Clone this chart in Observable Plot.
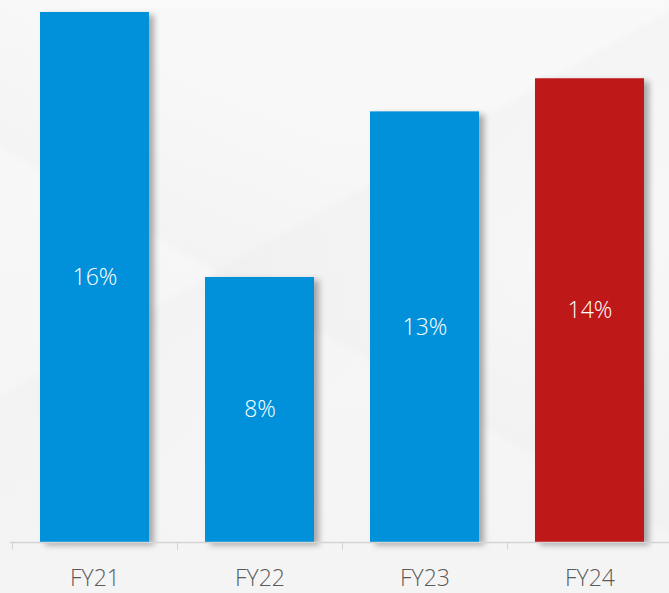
<!DOCTYPE html>
<html>
<head>
<meta charset="utf-8">
<script src="https://cdn.jsdelivr.net/npm/d3@7"></script>
<script src="https://cdn.jsdelivr.net/npm/@observablehq/plot@0.6"></script>
<style>
  html, body { margin: 0; padding: 0; }
  body {
    width: 669px; height: 593px; overflow: hidden;
    background:
      linear-gradient(150deg, rgba(255,255,255,0) 40%, rgba(232,232,232,0.25) 41%, rgba(255,255,255,0) 60%),
      linear-gradient(30deg, rgba(255,255,255,0) 45%, rgba(228,228,228,0.2) 46%, rgba(255,255,255,0) 65%),
      linear-gradient(180deg, #f9f9f9 0%, #f4f4f4 100%);
  }
  #chart svg { display: block; background: transparent; }
</style>
</head>
<body>
<div id="chart"></div>
<script>
const categories = ["FY21", "FY22", "FY23", "FY24"];
const values = [16, 8, 13, 14];
const labels = ["16%", "8%", "13%", "14%"];
const colors = ["#0091da", "#0091da", "#0091da", "#be1818"];

const data = categories.map((c, i) => ({cat: c, value: values[i], label: labels[i], color: colors[i]}));

const fontFamily = "'Open Sans', 'Noto Sans', sans-serif";

const chart = Plot.plot({
  width: 669,
  height: 593,
  marginTop: 12,
  marginBottom: 51,
  marginLeft: 10,
  marginRight: 0,
  style: {background: "transparent", fontFamily},
  x: {domain: categories, range: [10, 674], paddingInner: 0.3373, paddingOuter: 0.1687, label: null},
  y: {domain: [0, 16], axis: null},
  marks: [
    Plot.barY(data, {x: "cat", y: "value", fill: d => d.color}),
    Plot.text(data, {
      x: "cat", y: d => d.value / 2, text: "label",
      fill: "white", fontSize: 23, fontWeight: 300, fontFamily
    }),
    Plot.ruleY([0], {stroke: "#d4d4d4", strokeWidth: 1.5}),
    Plot.axisX({
      tickSize: 8, tickPadding: 19, stroke: "#d4d4d4",
      fill: "#5a5a5a", fontSize: 23, fontWeight: 300, fontFamily,
      ticks: categories, anchor: "bottom", label: null
    })
  ]
});

document.getElementById("chart").appendChild(chart);

// axis ticks sit on band boundaries: shift tick lines to band start
const xs = chart.scale("x");
const svg = d3.select(chart);
svg.selectAll("g[aria-label='bar'] rect").style("filter", "drop-shadow(5px 3px 3px rgba(0,0,0,0.32))");
const tickG = svg.select("g[aria-label='x-axis tick']");
const step = xs.step;
tickG.selectAll("path").attr("transform", function() {
  const t = d3.select(this).attr("transform");
  const m = /translate\(([-\d.]+),([-\d.]+)\)/.exec(t);
  return `translate(${+m[1] - step / 2},${m[2]})`;
});
</script>
</body>
</html>
